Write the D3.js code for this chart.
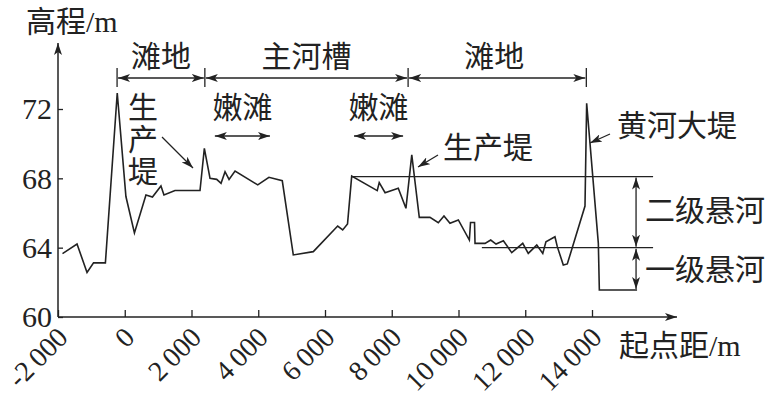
<!DOCTYPE html>
<html>
<head>
<meta charset="utf-8">
<script src="https://cdn.jsdelivr.net/npm/d3@7"></script>
<style>
  html, body { margin: 0; padding: 0; background: #fff; }
  text { font-family: "Liberation Serif", "Noto Sans CJK SC", serif; fill: #222; }
</style>
</head>
<body>
<div id="chart"></div>
<script>
// profile: start distance (m) and elevation (m)
const dist = [-1865, -1430, -1130, -935, -580, -225, 35, 290, 635, 830, 1085, 1175, 1505, 2255,
  2385, 2555, 2755, 2885, 3005, 3125, 3305, 3985, 4320, 4720, 5050, 5650, 6380, 6530, 6675,
  6800, 7565, 7625, 7800, 8195, 8425, 8600, 8825, 9145, 9395, 9565, 9745, 9995, 10325, 10360,
  10480, 10495, 10795, 10965, 11125, 11345, 11595, 11925, 12090, 12345, 12525, 12620, 12890,
  12960, 13140, 13260, 13790, 13840, 14190, 14220, 15350];
const elev = [63.66, 64.21, 62.57, 63.12, 63.12, 72.92, 66.95, 64.85, 67.04, 66.92, 67.56, 67.04,
  67.30, 67.30, 69.73, 68.0, 67.94, 67.71, 68.38, 67.94, 68.42, 67.62, 68.06, 67.86, 63.58, 63.77,
  65.25, 65.02, 65.37, 68.13, 67.29, 67.75, 67.17, 67.43, 66.27, 69.35, 65.75, 65.75, 65.44,
  65.83, 65.41, 65.60, 64.44, 65.45, 65.45, 64.25, 64.25, 64.44, 64.21, 64.40, 63.71, 64.25,
  63.67, 64.15, 63.67, 64.34, 64.63, 64.06, 63.0, 63.06, 66.40, 72.33, 64.25, 61.56, 61.56];

const xTicks = [-2000, 0, 2000, 4000, 6000, 8000, 10000, 12000, 14000];
const yTicks = [60, 64, 68, 72];

// top zones
const zoneLabels = ["滩地", "主河槽", "滩地"];
const zoneEdges = [-230, 2400, 8490, 13830];
// tender flats
const flatLabels = ["嫩滩", "嫩滩"];
const flatFrom = [2700, 6870];
const flatTo = [4350, 8340];
// suspended river levels
const levelElev = [68.1, 64.0];
const levelFrom = [6800, 10700];
const levelEnd = 15830;
const hangLabels = ["二级悬河", "一级悬河"];
const hangBottom = 61.56;
const hangX = 15320;

const W = 771, H = 396;
const x = d3.scaleLinear().domain([-2000, 14000]).range([58, 592]);
const y = d3.scaleLinear().domain([60, 72]).range([317, 109]);

const svg = d3.select("#chart").append("svg")
  .attr("width", W).attr("height", H);

const ink = "#222";

// arrowhead
svg.append("defs").append("marker")
    .attr("id", "ah")
    .attr("viewBox", "0 0 12 8")
    .attr("refX", 12).attr("refY", 4)
    .attr("markerWidth", 12).attr("markerHeight", 8)
    .attr("markerUnits", "userSpaceOnUse")
    .attr("orient", "auto-start-reverse")
  .append("path")
    .attr("d", "M0,0 L12,4 L0,8 L3,4 z")
    .attr("fill", ink);

const fmt = d3.formatLocale({ decimal: ".", thousands: "\u2009", grouping: [3], currency: ["", ""], minus: "-" }).format(",");

// x axis
const gx = svg.append("g")
    .attr("transform", `translate(0,${y(60)})`)
    .call(d3.axisBottom(x).tickValues(xTicks).tickSizeInner(-7).tickSizeOuter(0).tickFormat(fmt));
gx.select(".domain").remove();
gx.selectAll(".tick line").attr("stroke", ink).attr("stroke-width", 1.3);
gx.selectAll(".tick text")
    .attr("font-size", 28)
    .attr("text-anchor", "end")
    .attr("y", 0).attr("dy", 0)
    .attr("transform", "translate(11,22) rotate(-45)");

svg.append("line")
    .attr("x1", x(-2000)).attr("x2", 677)
    .attr("y1", y(60)).attr("y2", y(60))
    .attr("stroke", ink).attr("stroke-width", 1.5)
    .attr("marker-end", "url(#ah)");

// y axis
const gy = svg.append("g")
    .attr("transform", `translate(${x(-2000)},0)`)
    .call(d3.axisLeft(y).tickValues(yTicks).tickSizeInner(-5).tickSizeOuter(0).tickPadding(6));
gy.select(".domain").remove();
gy.selectAll(".tick line").attr("stroke", ink).attr("stroke-width", 1.3);
gy.selectAll(".tick text").attr("font-size", 30).attr("dy", "0.33em");

svg.append("line")
    .attr("x1", x(-2000)).attr("x2", x(-2000))
    .attr("y1", y(60)).attr("y2", 43)
    .attr("stroke", ink).attr("stroke-width", 1.5)
    .attr("marker-end", "url(#ah)");

svg.append("text").attr("x", 26).attr("y", 32).attr("font-size", 30).text("高程/m");
svg.append("text").attr("x", 619).attr("y", 356).attr("font-size", 30).text("起点距/m");

// profile
const pts = dist.map((d, i) => [d, elev[i]]);
svg.append("path")
    .datum(pts)
    .attr("fill", "none")
    .attr("stroke", ink)
    .attr("stroke-width", 1.6)
    .attr("stroke-linejoin", "miter")
    .attr("d", d3.line().x(d => x(d[0])).y(d => y(d[1])));

// level lines
levelElev.forEach((v, i) => {
  svg.append("line")
      .attr("x1", x(levelFrom[i])).attr("x2", x(levelEnd))
      .attr("y1", y(v)).attr("y2", y(v))
      .attr("stroke", ink).attr("stroke-width", 1.3);
});

// hanging river arrows
const hangStops = [levelElev[0], levelElev[1], hangBottom];
hangLabels.forEach((lab, i) => {
  svg.append("line")
      .attr("x1", x(hangX)).attr("x2", x(hangX))
      .attr("y1", y(hangStops[i]) + 1).attr("y2", y(hangStops[i + 1]) - 1)
      .attr("stroke", ink).attr("stroke-width", 1.3)
      .attr("marker-start", "url(#ah)").attr("marker-end", "url(#ah)");
  svg.append("text")
      .attr("x", 645)
      .attr("y", i === 0 ? 210 : 269)
      .attr("dominant-baseline", "central")
      .attr("font-size", 30)
      .text(lab);
});

// top zones
const zy = 78;
zoneEdges.forEach(e => {
  svg.append("line")
      .attr("x1", x(e)).attr("x2", x(e))
      .attr("y1", 68).attr("y2", 87)
      .attr("stroke", ink).attr("stroke-width", 1.3);
});
zoneLabels.forEach((lab, i) => {
  svg.append("line")
      .attr("x1", x(zoneEdges[i]) + 1).attr("x2", x(zoneEdges[i + 1]) - 1)
      .attr("y1", zy).attr("y2", zy)
      .attr("stroke", ink).attr("stroke-width", 1.3)
      .attr("marker-start", "url(#ah)").attr("marker-end", "url(#ah)");
  svg.append("text")
      .attr("x", (x(zoneEdges[i]) + x(zoneEdges[i + 1])) / 2 + (i === 2 ? -3 : 0))
      .attr("y", 56)
      .attr("text-anchor", "middle")
      .attr("dominant-baseline", "central")
      .attr("font-size", 30)
      .text(lab);
});

// tender flats
flatLabels.forEach((lab, i) => {
  svg.append("line")
      .attr("x1", x(flatFrom[i])).attr("x2", x(flatTo[i]))
      .attr("y1", 136).attr("y2", 136)
      .attr("stroke", ink).attr("stroke-width", 1.3)
      .attr("marker-start", "url(#ah)").attr("marker-end", "url(#ah)");
  svg.append("text")
      .attr("x", (x(flatFrom[i]) + x(flatTo[i])) / 2)
      .attr("y", 107)
      .attr("text-anchor", "middle")
      .attr("dominant-baseline", "central")
      .attr("font-size", 30)
      .text(lab);
});

// callouts
function callout(x1, y1, x2, y2) {
  svg.append("line")
      .attr("x1", x1).attr("y1", y1).attr("x2", x2).attr("y2", y2)
      .attr("stroke", ink).attr("stroke-width", 1.3)
      .attr("marker-end", "url(#ah)");
}
["生", "产", "堤"].forEach((c, i) => {
  svg.append("text")
      .attr("x", 143).attr("y", 107 + i * 32)
      .attr("text-anchor", "middle")
      .attr("dominant-baseline", "central")
      .attr("font-size", 30)
      .text(c);
});
callout(162, 137, 193, 168);

svg.append("text").attr("x", 443).attr("y", 147)
    .attr("dominant-baseline", "central").attr("font-size", 30).text("生产堤");
callout(438, 155, 418, 167);

svg.append("text").attr("x", 617).attr("y", 125)
    .attr("dominant-baseline", "central").attr("font-size", 30).text("黄河大堤");
callout(610, 134, 590, 143);
</script>
</body>
</html>
